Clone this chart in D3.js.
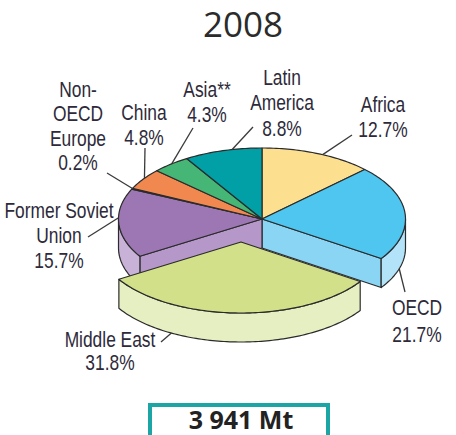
<!DOCTYPE html>
<html>
<head>
<meta charset="utf-8">
<script src="https://cdn.jsdelivr.net/npm/d3@7"></script>
<style>
  html, body { margin: 0; padding: 0; background: #fff; }
  svg { display: block; }
  .lbl { font-family: "Liberation Sans", Arial, sans-serif; font-size: 22px; fill: #2e2a3a; }
</style>
</head>
<body>
<div class="chart"></div>
<script>
// shares of the 2008 total, clockwise from 12 o'clock
var regions   = ["Africa", "OECD", "Middle East", "Former Soviet Union", "Non-OECD Europe", "China", "Asia**", "Latin America"];
var shares    = [12.7, 21.7, 31.8, 15.7, 0.2, 4.8, 4.3, 8.8];
var labelText = [
  ["Africa", "12.7%"],
  ["OECD", "21.7%"],
  ["Middle East", "31.8%"],
  ["Former Soviet", "Union", "15.7%"],
  ["Non-", "OECD", "Europe", "0.2%"],
  ["China", "4.8%"],
  ["Asia**", "4.3%"],
  ["Latin", "America", "8.8%"]
];
var title     = "2008";
var totalText = "3 941 Mt";
var exploded  = "Middle East";

var topColors  = ["#fde08f", "#4ec6f0", "#d2e08a", "#9c77b4", "#7a5a8c", "#f0884f", "#46b677", "#00a0a6"];
var sideColors = ["#fbe7b0", "#b3e3f8", "#e5efc1", "#c8b2d8", "#b49ac6", "#f6b690", "#9ad6b0", "#7dcccf"];
var wallColors = ["#fbe7b0", "#8ad5f4", "#e5efc1", "#b597c9", "#b49ac6", "#f6b690", "#9ad6b0", "#7dcccf"];

// label layout: text centre, first baseline, line step, leader (outer end, anchor angle in deg, on bottom rim?)
var labelLayout = [
  { x: 383, y: 112, dy: 25,   lx: 352, ly: 135, ang: 25,    low: false },
  { x: 417, y: 315, dy: 27,   lx: 405, ly: 292, ang: 107,   low: true  },
  { x: 110, y: 347, dy: 23,   lx: 161, ly: 342, ang: 209,   low: true  },
  { x: 59,  y: 218, dy: 25,   lx: 88,  ly: 237, ang: 271,   low: false },
  { x: 78,  y: 97,  dy: 24.5, lx: 107, ly: 173, ang: 295.5, low: false },
  { x: 144, y: 120, dy: 25,   lx: 145, ly: 148, ang: 305,   low: false },
  { x: 207, y: 97,  dy: 25,   lx: 193, ly: 128, ang: 321,   low: false },
  { x: 282, y: 85,  dy: 25.5, lx: 253, ly: 127, ang: 348,   low: false }
];
var squeeze = 0.79;   // condensed look for the labels

var width = 456, height = 435;
var cx = 262, cy = 219, rx = 143.5, ry = 71, depth = 29;
var shift = { x: -21, y: 23 };

var svg = d3.select(".chart").append("svg")
    .attr("width", width)
    .attr("height", height);

var pie = d3.pie().sort(null).startAngle(0).endAngle(2 * Math.PI);
var arcs = pie(shares);
arcs.forEach(function (d, i) { d.name = regions[i]; d.i = i; });

function pt(a, ox, oy, low) {
  return [ox + rx * Math.sin(a), oy - ry * Math.cos(a) + (low ? depth : 0)];
}

function arcPoints(a0, a1, ox, oy, low) {
  var n = Math.max(2, Math.ceil(Math.abs(a1 - a0) / 0.02));
  return d3.range(n + 1).map(function (k) { return pt(a0 + (a1 - a0) * k / n, ox, oy, low); });
}

var line = d3.line();

function topPath(d, ox, oy) {
  return line([[ox, oy]].concat(arcPoints(d.startAngle, d.endAngle, ox, oy, false))) + "Z";
}

function sidePath(d, ox, oy) {
  var a0 = Math.max(d.startAngle, Math.PI / 2), a1 = Math.min(d.endAngle, 3 * Math.PI / 2);
  if (a1 <= a0) return null;
  var up = arcPoints(a0, a1, ox, oy, false);
  var down = arcPoints(a1, a0, ox, oy, true);
  return line(up.concat(down)) + "Z";
}

function wallPath(a, ox, oy) {
  var e = pt(a, ox, oy, false);
  return line([[ox, oy], e, [e[0], e[1] + depth], [ox, oy + depth]]) + "Z";
}

var stroke = "#2b2b2b", sw = 1.2;
var main = arcs.filter(function (d) { return d.name !== exploded; });
var out  = arcs.filter(function (d) { return d.name === exploded; })[0];

var g = svg.append("g");

function face(p, fill) {
  g.append("path").attr("d", p).attr("fill", fill)
    .attr("stroke", stroke).attr("stroke-width", sw).attr("stroke-linejoin", "round");
}

// walls left open by the pulled-out slice
main.forEach(function (d) {
  if (Math.abs(d.endAngle - out.startAngle) < 1e-6) face(wallPath(d.endAngle, cx, cy), wallColors[d.i]);
  if (Math.abs(d.startAngle - out.endAngle) < 1e-6) face(wallPath(d.startAngle, cx, cy), wallColors[d.i]);
});

main.forEach(function (d) {
  var p = sidePath(d, cx, cy);
  if (p) face(p, sideColors[d.i]);
});

g.selectAll("path.top")
  .data(main)
  .enter()
  .append("path")
  .attr("class", "top")
  .attr("d", function (d) { return topPath(d, cx, cy); })
  .attr("fill", function (d) { return topColors[d.i]; })
  .attr("stroke", stroke)
  .attr("stroke-width", sw)
  .attr("stroke-linejoin", "round");

var ox = cx + shift.x, oy = cy + shift.y;
face(sidePath(out, ox, oy), sideColors[out.i]);
face(topPath(out, ox, oy), topColors[out.i]);

// leaders and labels
labelLayout.forEach(function (L, i) {
  var isOut = regions[i] === exploded;
  var p = pt(L.ang * Math.PI / 180, isOut ? ox : cx, isOut ? oy : cy, L.low);
  svg.append("line")
    .attr("x1", L.lx).attr("y1", L.ly)
    .attr("x2", p[0]).attr("y2", p[1])
    .attr("stroke", "#3a3a3a")
    .attr("stroke-width", 1.3);

  var t = svg.append("text").attr("class", "lbl")
    .attr("text-anchor", "middle")
    .attr("transform", "translate(" + L.x + ",0) scale(" + squeeze + ",1)");
  labelText[i].forEach(function (s, k) {
    t.append("tspan").attr("x", 0).attr("y", L.y + k * L.dy).text(s);
  });
});

svg.append("text")
  .attr("x", 243).attr("y", 37)
  .attr("text-anchor", "middle")
  .attr("font-family", "'Open Sans', sans-serif")
  .attr("font-size", 35)
  .attr("fill", "#2b2b2b")
  .text(title);

svg.append("rect")
  .attr("x", 150).attr("y", 405)
  .attr("width", 178).attr("height", 50)
  .attr("fill", "#fff")
  .attr("stroke", "#1ba5a5")
  .attr("stroke-width", 4);

svg.append("text")
  .attr("x", 241).attr("y", 429)
  .attr("text-anchor", "middle")
  .attr("font-family", "'Open Sans', sans-serif")
  .attr("font-weight", 700)
  .attr("font-size", 25)
  .attr("fill", "#222")
  .text(totalText);
</script>
</body>
</html>
